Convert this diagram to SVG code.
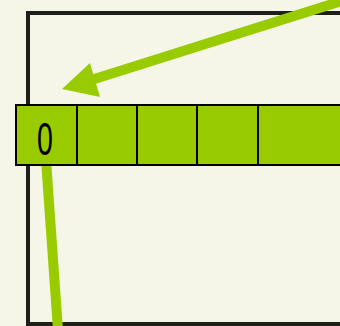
<svg xmlns="http://www.w3.org/2000/svg" width="340" height="326" viewBox="0 0 340 326">
<style>
.frame{fill:none;stroke:#1e1e1a;stroke-width:4}
.cell{fill:#99cc00;stroke:#000;stroke-width:2}
.conn{stroke:#99cc00;stroke-width:10;fill:none}
.head{fill:#99cc00}
.lbl{font-family:"Liberation Sans",Arial,sans-serif;font-size:46px;fill:#000}
</style>
<rect width="340" height="326" fill="#f5f6e8"/>
<path class="frame" d="M345 13 H28 V324 H345"/>
<g id="connectors">
<line class="conn" x1="46" y1="160" x2="58" y2="330"/>
<line class="conn" x1="345" y1="0" x2="88" y2="81"/>
<polygon class="head" points="62,89 90,63 100,97"/>
</g>
<g id="array">
<rect class="cell" x="16" y="105" width="61" height="60"/>
<rect class="cell" x="77" y="105" width="60" height="60"/>
<rect class="cell" x="137" y="105" width="60" height="60"/>
<rect class="cell" x="197" y="105" width="61" height="60"/>
<rect class="cell" x="258" y="105" width="90" height="60"/>
<text class="lbl" transform="translate(45 155) scale(0.62 1)" text-anchor="middle">0</text>
</g>
</svg>
